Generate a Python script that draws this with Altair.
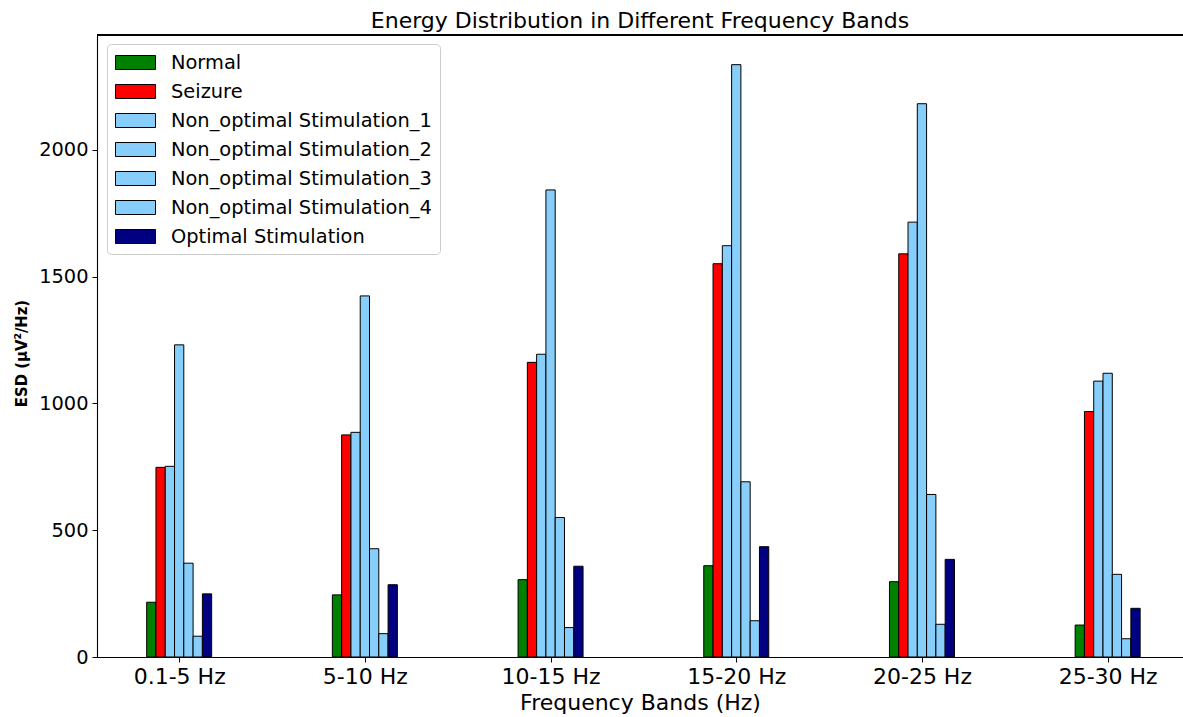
import altair as alt
import pandas as pd

bands = ["0.1-5 Hz", "5-10 Hz", "10-15 Hz", "15-20 Hz", "20-25 Hz", "25-30 Hz"]
series = ["Normal", "Seizure", "Non_optimal Stimulation_1", "Non_optimal Stimulation_2",
          "Non_optimal Stimulation_3", "Non_optimal Stimulation_4", "Optimal Stimulation"]
colors = ["#008000", "#ff0000", "#87cefa", "#87cefa", "#87cefa", "#87cefa", "#000080"]

normal = [216, 245, 305, 360, 297, 126]
seizure = [748, 876, 1162, 1551, 1590, 968]
non_opt_1 = [752, 886, 1194, 1622, 1715, 1088]
non_opt_2 = [1231, 1424, 1842, 2336, 2182, 1119]
non_opt_3 = [370, 427, 550, 691, 641, 326]
non_opt_4 = [82, 92, 116, 143, 129, 72]
optimal = [249, 285, 358, 435, 385, 192]

values = [normal, seizure, non_opt_1, non_opt_2, non_opt_3, non_opt_4, optimal]
bar_w = 0.05

rows = []
for k, (name, vals) in enumerate(zip(series, values)):
    for i, v in enumerate(vals):
        x0 = i + (k - 3) * bar_w - bar_w / 2
        rows.append({"band": bands[i], "idx": i, "series": name, "order": k,
                     "x0": x0, "x1": x0 + bar_w, "value": v})
df = pd.DataFrame(rows)

W, H = 1086, 622
FONT = "DejaVu Sans"

label_expr = "[" + ",".join('"%s"' % b for b in bands) + "][round(datum.value)]"

bars = alt.Chart(df).mark_bar(stroke="black", strokeWidth=1, opacity=1).encode(
    x=alt.X("x0:Q", scale=alt.Scale(domain=[-0.4425, 5.4058], nice=False, zero=False),
            axis=alt.Axis(values=list(range(len(bands))), labelExpr=label_expr,
                          title="Frequency Bands (Hz)", grid=False, tickColor="black",
                          domainColor="black", labelColor="black", titleColor="black",
                          labelFontSize=22, titleFontSize=22, titleFontWeight="normal",
                          tickSize=5, labelPadding=4, titlePadding=5, labelFont=FONT,
                          titleFont=FONT, domainWidth=1.1)),
    x2="x1:Q",
    y=alt.Y("value:Q", scale=alt.Scale(domain=[0, 2453], nice=False),
            axis=alt.Axis(values=[0, 500, 1000, 1500, 2000], format="d",
                          title="ESD (μV²/Hz)",
                          grid=False, tickColor="black", domainColor="black",
                          labelColor="black", titleColor="black", labelFontSize=19.4,
                          titleFontSize=16.5, titleFontWeight="bold", tickSize=5,
                          labelPadding=4, titlePadding=9, labelFont=FONT,
                          titleFont="'Liberation Sans Narrow', 'DejaVu Sans Condensed', sans-serif",
                          titleY=318,
                          domainWidth=1.1)),
    y2=alt.datum(0),
    color=alt.Color("series:N", scale=alt.Scale(domain=series, range=colors),
                    sort=series,
                    legend=alt.Legend(title=None, orient="none", legendX=10, legendY=9,
                                      symbolType="M-2,-0.7H2V0.7H-2Z", symbolSize=400,
                                      symbolStrokeColor="black", symbolStrokeWidth=1,
                                      symbolOpacity=1, symbolOffset=10,
                                      labelFontSize=19.4, labelFont=FONT, labelColor="black",
                                      labelOffset=25, rowPadding=9, padding=8,
                                      fillColor="white", strokeColor="#cccccc",
                                      cornerRadius=4, labelLimit=400)),
    order=alt.Order("order:Q"),
)

top_line = alt.Chart(df).mark_rule(color="black", strokeWidth=1.1).encode(
    x=alt.value(0), x2=alt.value(W), y=alt.value(0)
)

chart = alt.layer(bars, top_line).properties(
    width=W, height=H,
    title=alt.TitleParams("Energy Distribution in Different Frequency Bands",
                          fontSize=22, font=FONT, fontWeight="normal", color="black",
                          anchor="middle", offset=1),
    autosize=alt.AutoSizeParams(type="none"),
    padding={"left": 97, "top": 35, "right": 0, "bottom": 60},
).configure_view(stroke=None).configure(background="white")

chart.save("out.html", embed_options={"renderer": "svg", "actions": False})
